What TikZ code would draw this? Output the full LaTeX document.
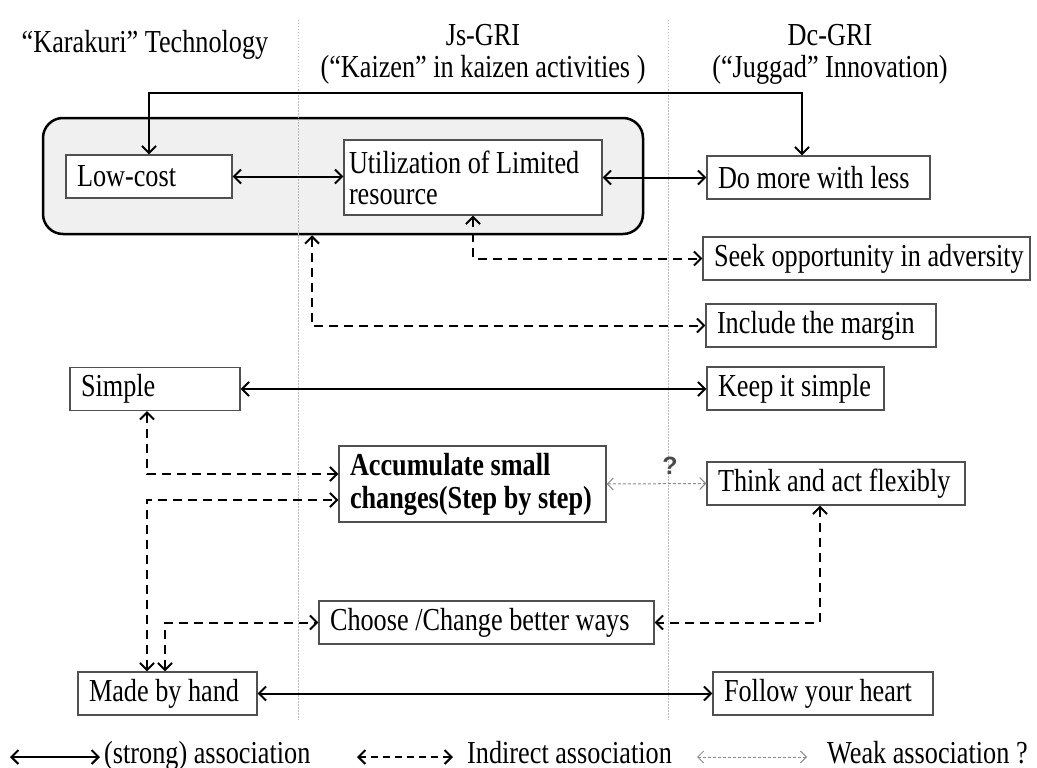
\documentclass[tikz,border=0pt]{standalone}
\usepackage{fontspec}
\setmainfont{Liberation Serif}[FakeStretch=0.82]
\newfontfamily\qfont{Liberation Sans}
\usetikzlibrary{arrows.meta}
\definecolor{boxc}{HTML}{505050}
\definecolor{grpfill}{HTML}{F0F0F0}
\definecolor{vlc}{HTML}{BBBBBB}
\definecolor{weakc}{HTML}{8C8C8C}
\definecolor{qc}{HTML}{4A4A4A}
\newcommand\tx[1]{\mbox{\spaceskip=0pt\xspaceskip=0pt\relax#1}}
\begin{document}
\begin{tikzpicture}[x=1pt,y=-1pt,
  every node/.style={font=\fontsize{32}{31}\selectfont},
  bx/.style={draw=boxc, line width=1.3pt, fill=white, minimum height=43pt,
    inner xsep=11pt, inner ysep=0pt, text width=#1, align=left},
  tipS/.tip={Straight Barb[length=7pt,width=14pt]},
  strong/.style={line width=2pt, tipS-tipS},
  ind/.style={line width=2pt, tipS-tipS, dash pattern=on 9pt off 6pt},
  weak/.style={draw=weakc, line width=1pt, dash pattern=on 3pt off 2pt,
    {Straight Barb[length=6pt,width=12pt]}-{Straight Barb[length=6pt,width=12pt]}},
  vline/.style={draw=vlc, line width=1pt, dash pattern=on 1.5pt off 1.5pt}
]
\useasboundingbox (0,0) rectangle (1037,768);

% grouping box
\node[draw, line width=2.5pt, fill=grpfill, rounded corners=20pt,
  minimum width=600pt, minimum height=116pt, inner sep=0pt] (grp) at (343,176) {};

% column separators
\coordinate (v1t) at (298,20); \coordinate (v1b) at (298,720);
\coordinate (v2t) at (668,20); \coordinate (v2b) at (668,720);
\draw[vline] (v1t) -- (v1b);
\draw[vline] (v2t) -- (v2b);

% headers
\node[align=center] (hk) at (145,45) {“Karakuri” Technology};
\node[align=center, font=\fontsize{32}{32}\selectfont] (hj) at (483,54) {Js-GRI\\(“Kaizen” in kaizen activities )};
\node[align=center, font=\fontsize{32}{32}\selectfont] (hd) at (830,54) {Dc-GRI\\(“Juggad” Innovation)};

% boxes
\node[bx=144pt] (lowcost) at (149,176.5) {Low-cost};
\node[bx=248pt, inner xsep=5pt, minimum height=75pt] (util) at (473,177.5) {\tx{Utilization of Limited}\\resource};
\node[bx=201pt] (domore) at (818.5,177.5) {\tx{Do more with less}};
\node[bx=305pt] (seek) at (866.5,258.5) {\tx{Seek opportunity in adversity}};
\node[bx=208pt] (include) at (821,325.5) {\tx{Include the margin}};
\node[bx=148pt] (simple) at (155,389) {Simple};
\node[bx=155pt] (keep) at (795.5,388.5) {\tx{Keep it simple}};
\node[bx=245pt, minimum height=76pt, font=\fontsize{32}{33}\selectfont\bfseries] (accum) at (472.5,484) {\tx{Accumulate small}\\\tx{changes(Step by step)}};
\node[bx=236pt] (think) at (836,483.5) {\tx{Think and act flexibly}};
\node[bx=313pt] (choose) at (486.5,622.5) {\tx{Choose /Change better ways}};
\node[bx=157pt] (made) at (167.5,693.5) {\tx{Made by hand}};
\node[bx=198pt] (follow) at (823,693.5) {\tx{Follow your heart}};

% helper coordinates
\coordinate (t1) at (149,93);
\coordinate (t2) at (802,93);
\coordinate (g1) at (312,0);
\coordinate (xa) at (147,0);
\coordinate (xb) at (165,0);
\coordinate (xc) at (820,0);

% connectors
\draw[strong] (lowcost.north) -- (t1) -- (t2) -- (t2 |- domore.north);
\draw[strong] (lowcost.east) -- (lowcost.east -| util.west);
\draw[strong] (util.east) -- (util.east -| domore.west);
\draw[ind] (util.south) |- (seek.west);
\draw[ind] (grp.south -| g1) |- (include.west);
\draw[strong] (simple.east) -- (simple.east -| keep.west);
\draw[ind] (simple.south -| xa) |- ([yshift=10pt]accum.west);
\draw[ind] (made.north -| xa) |- ([yshift=-16pt]accum.west);
\draw[ind] (made.north -| xb) |- (choose.west);
\draw[ind] (think.south -| xc) |- (choose.east);
\draw[weak] (accum.east) -- (think.west);
\node[font={\qfont\fontsize{25}{25}\selectfont\bfseries}, text=qc] (q) at (670,466) {?};
\draw[strong] (made.east) -- (follow.west);

% legend
\coordinate (l1s) at (10,757); \coordinate (l1e) at (100,757);
\coordinate (l2s) at (357,757); \coordinate (l2e) at (453,757);
\coordinate (l3s) at (697,757); \coordinate (l3e) at (807,757);
\node[anchor=base west, inner sep=0pt] (lg1) at (104,763) {(strong) association};
\node[anchor=base west, inner sep=0pt] (lg2) at (467,763) {Indirect association};
\node[anchor=base west, inner sep=0pt] (lg3) at (827,763) {Weak association ?};
\draw[strong] (l1s) -- (l1e);
\draw[ind, dash pattern=on 7pt off 5pt] (l2s) -- (l2e);
\draw[weak] (l3s) -- (l3e);
\end{tikzpicture}
\end{document}
